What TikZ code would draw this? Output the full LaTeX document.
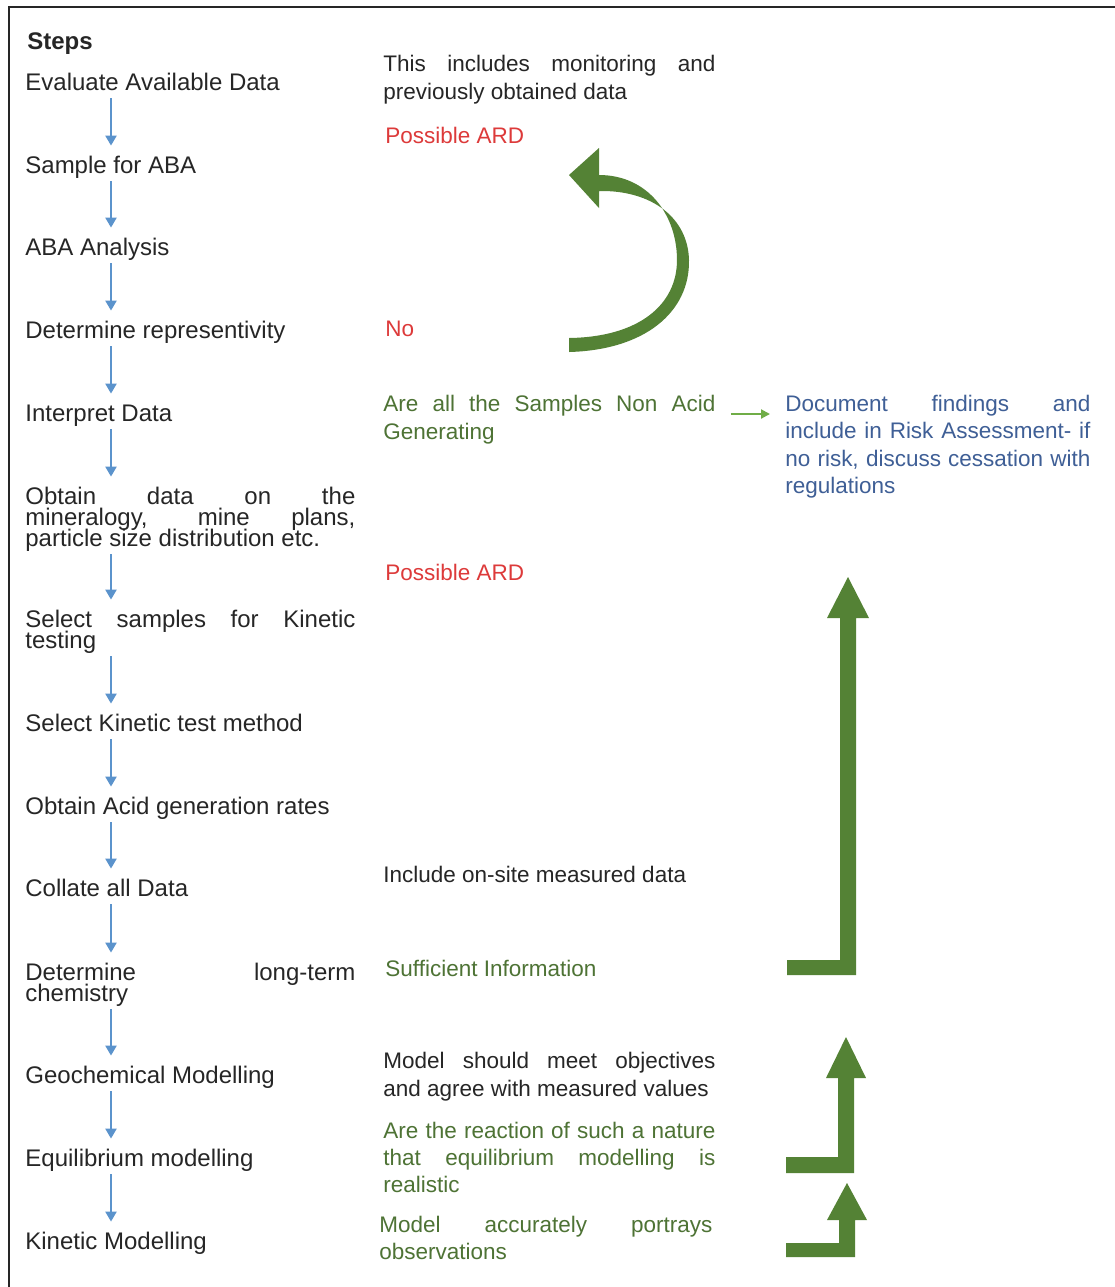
\documentclass[tikz,border=0pt]{standalone}
\usepackage{fontspec}
\setmainfont{Liberation Sans}
\usetikzlibrary{arrows.meta,calc}
\definecolor{arrblue}{HTML}{5B93CC}
\definecolor{ardred}{HTML}{DD3A3A}
\definecolor{txtgreen}{HTML}{4E7335}
\definecolor{txtblue}{HTML}{3F5F96}
\definecolor{biggreen}{HTML}{548235}
\definecolor{lightgreen}{HTML}{70AD47}
\newcommand{\jl}[2]{\hbox to #1{#2}}
\newcommand{\ml}[2]{\vtop{\baselineskip=#1\relax\lineskiplimit=-\maxdimen\relax #2}}
\newcommand{\hs}{\rule{0pt}{9pt}}
\newcommand{\ds}{\rule[-2.5pt]{0pt}{2.5pt}}
\newcommand{\st}{\rule[-2.5pt]{0pt}{11.5pt}}
\tikzset{
  steptext/.style={anchor=base west, inner sep=0pt, text=black!85, font=\fontsize{12}{10.5}\selectfont},
  midtext/.style={anchor=base west, inner sep=0pt, text=black!85, font=\fontsize{11.25}{14}\selectfont},
  bluearr/.style={draw=arrblue, line width=1.1pt, -{Triangle[width=5.5pt,length=5pt]}, shorten <=1.5pt, shorten >=4.5pt},
  lgarr/.style={draw=lightgreen, line width=1pt, -{Triangle[width=4.5pt,length=4.5pt]}},
  frameline/.style={draw=black!85, line width=1.25pt},
  bigarrow/.style={fill=biggreen}
}
\begin{document}
\begin{tikzpicture}[x=0.5pt,y=-0.5pt]
\useasboundingbox (0,0) rectangle (1115,1287);
\fill[white] (0,0) rectangle (1115,1287);
\draw[frameline] (9,1287) -- (9,7) -- (1115,7);

% left column
\node[steptext, font=\bfseries\fontsize{12}{14}\selectfont] (steps) at (27,49) {Steps};
\node[steptext] (s1) at (25,90) {\st Evaluate Available Data};
\node[steptext] (s2) at (25,173) {\st Sample for ABA};
\node[steptext] (s3) at (25,255) {\st ABA Analysis};
\node[steptext] (s4) at (25,338) {\st Determine representivity};
\node[steptext] (s5) at (25,421) {\st Interpret Data};
\node[steptext] (s6) at (25,504) {\ml{10.5pt}{\jl{165pt}{\hs Obtain data on the}\jl{165pt}{mineralogy, mine plans,}\hbox{particle size distribution etc.\ds}}};
\node[steptext] (s7) at (25,627) {\ml{10.5pt}{\jl{165pt}{\hs Select samples for Kinetic}\hbox{testing\ds}}};
\node[steptext] (s8) at (25,731) {\st Select Kinetic test method};
\node[steptext] (s9) at (25,814) {\st Obtain Acid generation rates};
\node[steptext] (s10) at (25,896) {\st Collate all Data};
\node[steptext] (s11) at (25,980) {\ml{10.5pt}{\jl{165pt}{\hs Determine long-term}\hbox{chemistry\ds}}};
\node[steptext] (s12) at (25,1083) {\st Geochemical Modelling};
\node[steptext] (s13) at (25,1166) {\st Equilibrium modelling};
\node[steptext] (s14) at (25,1249) {\st Kinetic Modelling};

\coordinate (ax) at (111,0);
\foreach \a/\b in {s1/s2,s2/s3,s3/s4,s4/s5,s5/s6,s6/s7,s7/s8,s8/s9,s9/s10,s10/s11,s11/s12,s12/s13,s13/s14}
  \draw[bluearr] (\a.south -| ax) -- (\b.north -| ax);

% middle column
\node[midtext] (m1) at (383,71) {\ml{14pt}{\jl{166pt}{This includes monitoring and}\hbox{previously obtained data}}};
\node[midtext, text=ardred] (m2) at (385,143) {Possible ARD};
\node[midtext, text=ardred] (m3) at (385,336) {No};
\node[midtext, text=txtgreen] (q1) at (383,411) {\ml{14pt}{\jl{166pt}{Are all the Samples Non Acid}\hbox{Generating}}};
\node[midtext, text=ardred] (m5) at (385,580) {Possible ARD};
\node[midtext] (m6) at (383,882) {Include on-site measured data};
\node[midtext, text=txtgreen] (m7) at (385,976) {Sufficient Information};
\node[midtext] (m8) at (383,1068) {\ml{14pt}{\jl{166pt}{Model should meet objectives}\hbox{and agree with measured values}}};
\node[midtext, text=txtgreen] (m9) at (383,1138) {\ml{13.5pt}{\jl{166pt}{Are the reaction of such a nature}\jl{166pt}{that equilibrium modelling is}\hbox{realistic}}};
\node[midtext, text=txtgreen] (m10) at (379,1232) {\ml{13.5pt}{\jl{166.5pt}{Model accurately portrays}\hbox{observations}}};

% right column
\node[midtext, text=txtblue] (doc) at (785,411) {\ml{13.75pt}{\jl{152.5pt}{Document findings and}\jl{152.5pt}{include in Risk Assessment- if}\jl{152.5pt}{no risk, discuss cessation with}\hbox{regulations}}};

\draw[lgarr] ($(q1.base east)+(15,3)$) -- ($(doc.base west)+(-15,3)$);

% curved arrow
\fill[bigarrow] (569,352) .. controls (645,350) and (690,312) .. (689,260)
  .. controls (688,218) and (652,190) .. (599,191) -- (599,208) -- (569,175) -- (599,148) -- (599,175)
  .. controls (648,175) and (677,215) .. (677,260)
  .. controls (677,304) and (640,337) .. (569,338) -- cycle;

% L-shaped arrows
\fill[bigarrow] (787,960) -- (840,960) -- (840,618) -- (827,618) -- (848,577) -- (869,618) -- (856,618) -- (856,975) -- (787,975) -- cycle;
\fill[bigarrow] (786,1157) -- (838,1157) -- (838,1078) -- (826,1078) -- (846,1037) -- (866,1078) -- (854,1078) -- (854,1173) -- (786,1173) -- cycle;
\fill[bigarrow] (786,1243) -- (839,1243) -- (839,1220) -- (827,1220) -- (847,1183) -- (867,1220) -- (855,1220) -- (855,1257) -- (786,1257) -- cycle;
\end{tikzpicture}
\end{document}
